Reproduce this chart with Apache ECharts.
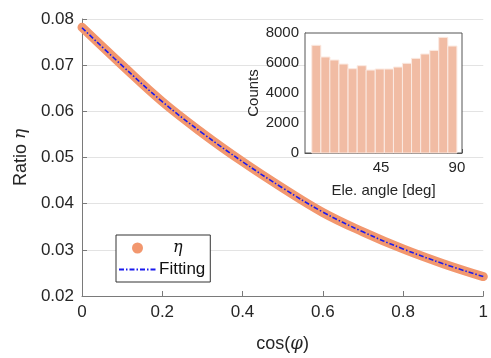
<!DOCTYPE html>
<html>
<head>
<meta charset="utf-8">
<script src="https://cdn.jsdelivr.net/npm/echarts@6/dist/echarts.min.js"></script>
<style>html,body{margin:0;padding:0;background:#fff}#c{width:491px;height:358px}</style>
</head>
<body>
<div id="c"></div>
<script>
// Main plot data
var cosPhi = [0, 0.1, 0.2, 0.3, 0.4, 0.5, 0.6, 0.7, 0.8, 0.9, 1.0];
var ratioEta = [0.0782, 0.0700, 0.0621, 0.0553, 0.0491, 0.0434, 0.0381, 0.0339, 0.0302, 0.0270, 0.0242];
var fitting = [0.0781, 0.0699, 0.0621, 0.0553, 0.0491, 0.0434, 0.0382, 0.0339, 0.0302, 0.0270, 0.0242];
var yTicks = [0.02, 0.03, 0.04, 0.05, 0.06, 0.07, 0.08];
var xTicks = [0, 0.2, 0.4, 0.6, 0.8, 1];
// Inset histogram data
var binCenters = [6.7, 12.1, 17.4, 22.8, 28.2, 33.6, 38.9, 44.3, 49.7, 55.1, 60.4, 65.8, 71.2, 76.6, 81.9, 87.3];
var binCounts = [7180, 6400, 6200, 5930, 5620, 5820, 5530, 5600, 5600, 5730, 5980, 6310, 6600, 6840, 7710, 7130];
var binWidth = 5.375;
var insetXTicks = [45, 90];

var chart = echarts.init(document.getElementById('c'));
var txt = '#262626';
var axc = '#7a7a7a';
var F = 'Liberation Sans, Arial, sans-serif';
var SERIF = 'DejaVu Serif, serif';

function pairs(xs, ys) { return xs.map(function (x, i) { return [x, ys[i]]; }); }

var option = {
  animation: false,
  backgroundColor: '#fff',
  textStyle: { fontFamily: F },
  grid: [
    { left: 82, right: 3, top: 19, bottom: 59 },
    { left: 305, right: 29, top: 33, bottom: 205, show: true, backgroundColor: '#fff', borderColor: '#555', borderWidth: 1, z: 5 }
  ],
  legend: {
    orient: 'vertical', left: 116, top: 235,
    backgroundColor: '#fff', borderColor: '#333', borderWidth: 1,
    padding: [5, 5, 4, 2], itemGap: 5, itemWidth: 37, itemHeight: 11,
    textStyle: { fontSize: 17, color: '#111', fontFamily: F, padding: [0, 0, 0, -2],
      rich: { e: { fontFamily: SERIF, fontStyle: 'italic', fontSize: 16, color: '#111', padding: [0, 0, 0, 14] } } },
    formatter: function (n) { return n === 'η' ? '{e|η}' : n; },
    data: [{ name: 'η', icon: 'circle' }, { name: 'Fitting', itemStyle: { opacity: 0 } }],
    z: 10
  },
  xAxis: [
    { gridIndex: 0, type: 'value', min: 0, max: 1, interval: 0.2,
      name: 'cos({p|φ})', nameLocation: 'middle', nameGap: 39,
      nameTextStyle: { fontSize: 18, color: txt, fontFamily: F,
        rich: { p: { fontFamily: SERIF, fontStyle: 'italic', fontSize: 18, color: txt } } },
      axisLine: { lineStyle: { color: axc, width: 1 } },
      axisTick: { inside: true, length: 5, lineStyle: { color: axc } },
      axisLabel: { fontSize: 17, color: txt, margin: 8, formatter: function (v) { return String(Math.round(v * 10) / 10); } },
      splitLine: { show: false } },
    { gridIndex: 1, type: 'value', min: 0, max: 93, interval: 45,
      name: 'Ele. angle [deg]', nameLocation: 'middle', nameGap: 30,
      nameTextStyle: { fontSize: 15, color: txt },
      axisLine: { onZero: false, lineStyle: { color: '#555' } },
      axisTick: { inside: true, length: 4, lineStyle: { color: '#555' } },
      axisLabel: { fontSize: 15, color: txt, margin: 7, formatter: function (v) { return insetXTicks.indexOf(v) >= 0 ? String(v) : ''; } },
      splitLine: { show: false } }
  ],
  yAxis: [
    { gridIndex: 0, type: 'value', min: 0.02, max: 0.08, interval: 0.01,
      name: 'Ratio {e|η}', nameLocation: 'middle', nameGap: 50,
      nameTextStyle: { fontSize: 18, color: txt, fontFamily: F,
        rich: { e: { fontFamily: SERIF, fontStyle: 'italic', fontSize: 17, color: txt } } },
      axisLine: { show: true, lineStyle: { color: axc, width: 1 } },
      axisTick: { show: true, inside: true, length: 5, lineStyle: { color: axc } },
      axisLabel: { fontSize: 17, color: txt, margin: 8, formatter: function (v) { return v.toFixed(2); } },
      splitLine: { show: true, lineStyle: { color: '#e3e3e3', width: 1 } } },
    { gridIndex: 1, type: 'value', min: 0, max: 8000, interval: 2000,
      name: 'Counts', nameLocation: 'middle', nameGap: 41,
      nameTextStyle: { fontSize: 15, color: txt },
      axisLine: { show: true, lineStyle: { color: '#555' } },
      axisTick: { show: true, inside: true, length: 4, lineStyle: { color: '#555' } },
      axisLabel: { fontSize: 15, color: txt, margin: 6, formatter: function (v) { return String(v); } },
      splitLine: { show: false } }
  ],
  series: [
    { name: 'η', type: 'line', xAxisIndex: 0, yAxisIndex: 0, smooth: 0.4,
      data: pairs(cosPhi, ratioEta), showSymbol: false, symbol: 'none',
      itemStyle: { color: '#f2976e' },
      lineStyle: { color: '#f2976e', width: 9, cap: 'round' }, z: 2 },
    { name: 'Fitting', type: 'line', xAxisIndex: 0, yAxisIndex: 0, smooth: 0.4,
      data: pairs(cosPhi, fitting), showSymbol: false, symbol: 'none',
      itemStyle: { color: '#1a1aee' },
      lineStyle: { color: '#1a1aee', width: 1.6, type: [5, 2, 1.5, 2] }, z: 3 },
    { name: 'hist', type: 'custom', xAxisIndex: 1, yAxisIndex: 1, z: 6,
      data: pairs(binCenters, binCounts),
      renderItem: function (params, api) {
        var x = api.value(0), y = api.value(1);
        var p0 = api.coord([x - binWidth / 2, y]);
        var p1 = api.coord([x + binWidth / 2, 0]);
        return { type: 'rect', shape: { x: p0[0], y: p0[1], width: p1[0] - p0[0], height: p1[1] - p0[1] },
          style: { fill: '#f1bca4', stroke: '#fbe9e1', lineWidth: 1 } };
      } }
  ]
};
chart.setOption(option);
</script>
</body>
</html>
